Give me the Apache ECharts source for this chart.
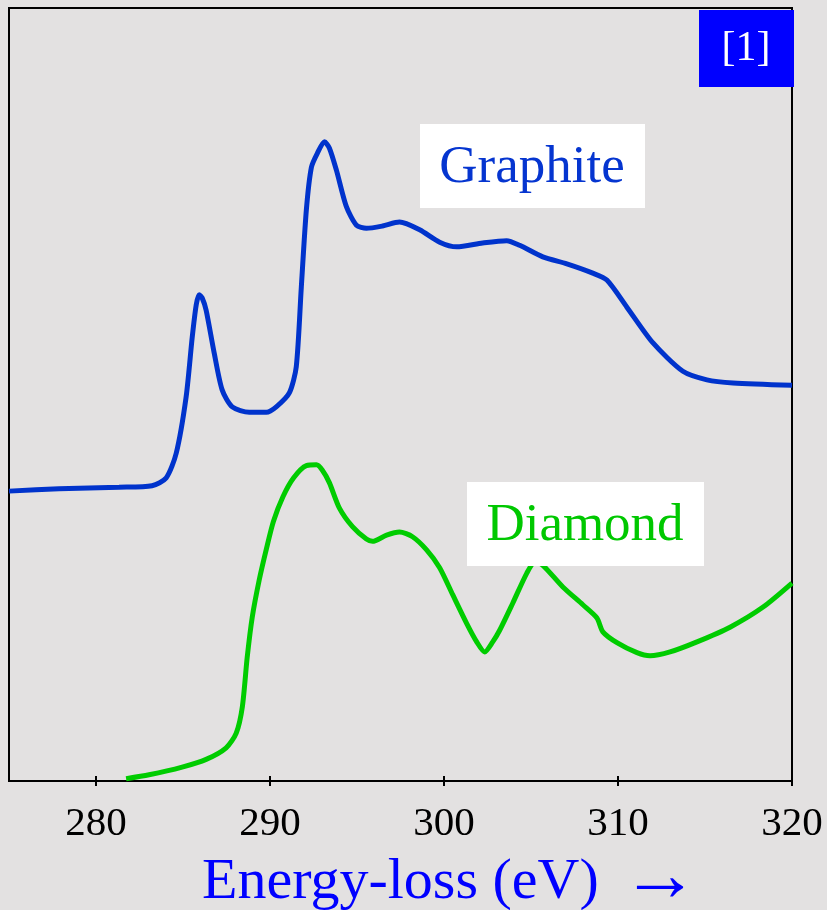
<!DOCTYPE html>
<html>
<head>
<meta charset="utf-8">
<script src="https://cdn.jsdelivr.net/npm/echarts@6/dist/echarts.min.js"></script>
<style>
  html, body { margin: 0; padding: 0; background: #e3e1e1; }
  #chart { width: 827px; height: 910px; }
</style>
</head>
<body>
<div id="chart"></div>
<script>
// Energy-loss (eV) values and intensities (arbitrary units, 0-100)
const graphiteEnergy = [275.0, 277.87, 281.32, 283.22, 284.03, 284.61, 285.18, 285.53, 285.76, 285.93, 286.10, 286.33, 286.79, 287.25, 287.83, 288.81, 289.79, 290.36, 291.11, 291.51, 291.80, 292.09, 292.38, 292.72, 293.13, 293.41, 293.82, 294.39, 294.97, 295.54, 296.47, 297.44, 298.60, 299.75, 300.73, 302.22, 303.60, 304.35, 305.68, 307.06, 308.55, 309.36, 310.51, 312.00, 313.73, 315.11, 316.61, 320.0];
const graphiteIntensity = [37.5, 37.8, 38.0, 38.2, 39.2, 42.4, 49.7, 57.4, 61.6, 62.9, 62.5, 60.9, 55.4, 50.6, 48.4, 47.7, 47.7, 48.4, 50.2, 53.6, 63.9, 73.9, 79.4, 81.2, 82.7, 81.9, 79.0, 74.3, 71.9, 71.5, 71.8, 72.3, 71.3, 69.7, 69.1, 69.6, 69.9, 69.3, 67.8, 66.9, 65.7, 64.8, 61.3, 56.7, 53.0, 51.9, 51.5, 51.2];

const diamondEnergy = [281.73, 283.05, 284.95, 286.33, 287.48, 288.06, 288.41, 288.69, 288.98, 289.38, 289.79, 290.20, 290.75, 291.35, 292.09, 292.67, 293.01, 293.41, 293.99, 294.74, 295.54, 295.89, 296.70, 297.44, 298.19, 299.0, 299.75, 300.50, 301.30, 301.88, 302.34, 302.80, 303.20, 303.95, 304.76, 305.22, 305.68, 306.83, 307.98, 308.79, 309.13, 309.94, 311.09, 311.84, 312.99, 314.54, 316.44, 318.34, 320.0];
const diamondIntensity = [0.3, 0.8, 1.8, 2.8, 4.3, 6.2, 9.6, 16.0, 21.2, 26.0, 30.0, 33.6, 36.8, 39.2, 40.8, 40.9, 40.2, 38.6, 35.3, 32.9, 31.3, 31.0, 31.8, 32.2, 31.6, 29.9, 27.6, 24.1, 20.4, 18.0, 16.7, 18.0, 19.5, 23.0, 26.9, 28.3, 27.9, 25.1, 22.8, 21.1, 19.3, 17.9, 16.6, 16.2, 16.7, 18.0, 19.9, 22.5, 25.6];

const tickValues = [280, 290, 300, 310, 320];
const seriesNames = ['Graphite', 'Diamond'];
const axisTitle = 'Energy-loss (eV)';
const axisArrow = '\u2192';
const refLabel = '[1]';

const zip = (xs, ys) => xs.map((x, i) => [x, ys[i]]);
const FONT = '"Liberation Serif", "DejaVu Serif", serif';

const chart = echarts.init(document.getElementById('chart'), null, { renderer: 'canvas' });
chart.setOption({
  backgroundColor: '#e3e1e1',
  animation: false,
  grid: {
    left: 9, top: 8, right: 35, bottom: 129,
    show: true, borderColor: '#000', borderWidth: 2, backgroundColor: 'transparent'
  },
  xAxis: [
    {
      type: 'value', min: 275, max: 320,
      axisLine: { show: true, lineStyle: { color: '#000', width: 2 } },
      axisTick: { show: true, inside: true, length: 5, customValues: tickValues, lineStyle: { color: '#000', width: 2 } },
      axisLabel: { show: true, customValues: tickValues, margin: 23, color: '#000', fontFamily: FONT, fontSize: 41 },
      splitLine: { show: false }
    },
    {
      type: 'value', min: 275, max: 320, position: 'bottom',
      axisLine: { show: false },
      axisTick: { show: true, inside: false, length: 5, customValues: tickValues, lineStyle: { color: '#000', width: 2 } },
      axisLabel: { show: false },
      splitLine: { show: false }
    }
  ],
  yAxis: {
    type: 'value', min: 0, max: 100,
    axisLine: { show: true, lineStyle: { color: '#000', width: 2 } },
    axisTick: { show: false }, axisLabel: { show: false }, splitLine: { show: false }
  },
  series: [
    {
      name: seriesNames[0], type: 'line', data: zip(graphiteEnergy, graphiteIntensity),
      smooth: 0.25, showSymbol: false, clip: true,
      lineStyle: { color: '#0033cc', width: 5 }, z: 3
    },
    {
      name: seriesNames[1], type: 'line', data: zip(diamondEnergy, diamondIntensity),
      smooth: 0.25, showSymbol: false, clip: true,
      lineStyle: { color: '#00cc00', width: 5 }, z: 3
    }
  ],
  graphic: [
    { type: 'rect', shape: { x: 699, y: 10, width: 95, height: 77 }, style: { fill: '#0000ff' }, z: 100 },
    { type: 'text', x: 746, y: 49, z: 101,
      style: { text: refLabel, fill: '#fff', font: '42px ' + FONT, align: 'center', verticalAlign: 'middle' } },
    { type: 'rect', shape: { x: 420, y: 124, width: 225, height: 84 }, style: { fill: '#fff' }, z: 100 },
    { type: 'text', x: 532, y: 168, z: 101,
      style: { text: seriesNames[0], fill: '#0535d0', font: '53px ' + FONT, align: 'center', verticalAlign: 'middle' } },
    { type: 'rect', shape: { x: 467, y: 482, width: 237, height: 84 }, style: { fill: '#fff' }, z: 100 },
    { type: 'text', x: 585, y: 526, z: 101,
      style: { text: seriesNames[1], fill: '#00c800', font: '53px ' + FONT, align: 'center', verticalAlign: 'middle' } },
    { type: 'text', x: 202, y: 883, z: 101,
      style: { text: axisTitle, fill: '#0000ff', font: '58px ' + FONT, align: 'left', verticalAlign: 'middle' } },
    { type: 'text', x: 660, y: 880, z: 101,
      style: { text: axisArrow, fill: '#0000ff', font: '78px ' + FONT, align: 'center', verticalAlign: 'middle' } }
  ]
});
</script>
</body>
</html>
